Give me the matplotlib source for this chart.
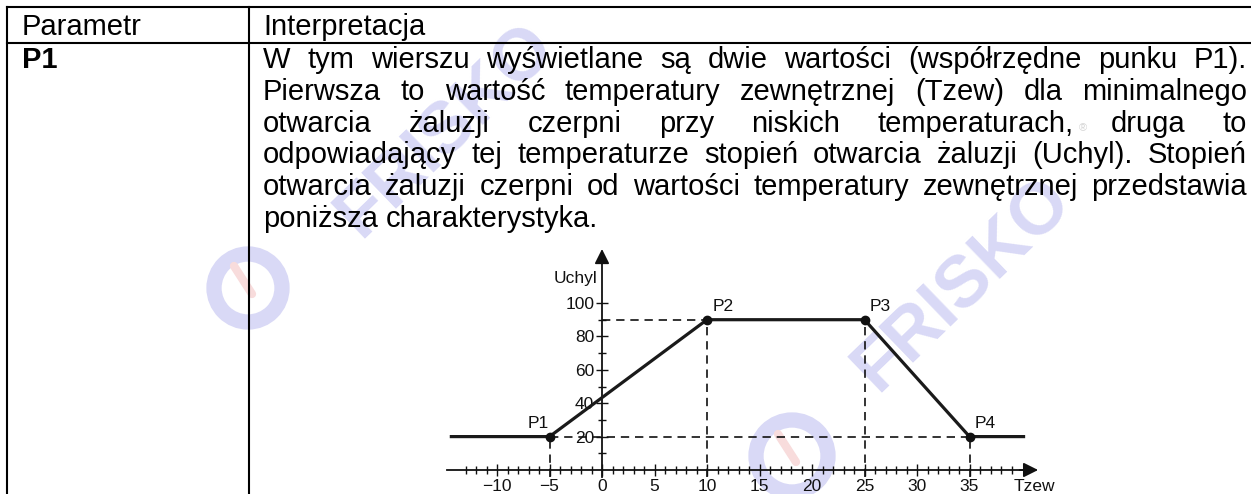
import matplotlib
matplotlib.use("Agg")
import matplotlib.pyplot as plt
from matplotlib.patches import Circle

plt.rcParams['font.family'] = ['Liberation Sans', 'DejaVu Sans']

# --- data -------------------------------------------------------------
header_left = "Parametr"
header_right = "Interpretacja"
param_name = "P1"
body_lines = [
    "W tym wierszu wyświetlane są dwie wartości (współrzędne punku P1).",
    "Pierwsza to wartość temperatury zewnętrznej (Tzew) dla minimalnego",
    "otwarcia żaluzji czerpni przy niskich temperaturach, druga to",
    "odpowiadający tej temperaturze stopień otwarcia żaluzji (Uchyl). Stopień",
    "otwarcia żaluzji czerpni od wartości temperatury zewnętrznej przedstawia",
    "poniższa charakterystyka.",
]

tzew = [-14.5, -5, 10, 25, 35, 40.3]
uchyl = [20, 20, 90, 90, 20, 20]

pt_names = ["P1", "P2", "P3", "P4"]
pt_x = [-5, 10, 25, 35]
pt_y = [20, 90, 90, 20]

x_major = [-10, -5, 0, 5, 10, 15, 20, 25, 30, 35]
x_minor = list(range(-13, 40))
y_major = [20, 40, 60, 80, 100]
y_minor = [10, 30, 50, 70, 90]

W, H = 1251, 494
fig = plt.figure(figsize=(W / 100, H / 100), dpi=100)
fig.patch.set_facecolor("white")

# background axes in pixel units (table + text)
bg = fig.add_axes([0, 0, 1, 1])
bg.set_xlim(0, W)
bg.set_ylim(H, 0)
bg.axis("off")

# watermark (logo circle + name), kept inside the picture
wm_col = "#d9d9f6"
for (cx, cy, r), (tx, ty) in [((248, 288, 34), (445, 130)), ((792, 456, 36), (962, 284))]:
    bg.add_patch(Circle((cx, cy), r, fill=False, lw=11, ec=wm_col, zorder=0))
    bg.plot([cx - 14, cx + 4], [cy - 22, cy + 6], color="#f8dcdc", lw=6,
            solid_capstyle="round", zorder=0)
    bg.text(tx, ty, "FRISKO", rotation=44, fontsize=52, fontweight="bold",
            color=wm_col, ha="center", va="center", zorder=0)
bg.text(1083, 128, "®", fontsize=8, color="#d4d4d4", ha="center", va="center", zorder=0)

# table lines
lc = "black"
lw = 1.5
bg.plot([7, W], [7, 7], color=lc, lw=lw)
bg.plot([7, W], [43, 43], color=lc, lw=lw)
bg.plot([7, 7], [7, H], color=lc, lw=lw)
bg.plot([249, 249], [7, H], color=lc, lw=lw)

fs = 21
bg.text(22, 35, header_left, fontsize=fs, va="baseline")
bg.text(263, 35, header_right, fontsize=fs, va="baseline")
bg.text(22, 68, param_name, fontsize=fs, fontweight="bold", va="baseline")

# justified body text
left, right = 263, 1247
baselines = [68, 100, 132, 163, 195, 227]
fig.canvas.draw()
rend = fig.canvas.get_renderer()
space = fs * 100 / 72 * 0.278
for i, line in enumerate(body_lines):
    words = line.split()
    ts = [bg.text(0, baselines[i], w, fontsize=fs, va="baseline") for w in words]
    widths = [t.get_window_extent(rend).width for t in ts]
    if i < len(body_lines) - 1:
        gap = (right - left - sum(widths)) / (len(words) - 1)
    else:
        gap = space
    x = left
    for t, w in zip(ts, widths):
        t.set_x(x)
        x += w + gap

# --- chart ------------------------------------------------------------
px_x, x0 = 10.5, 602
px_y, y0 = 1.67, 470
xl = (-16, 44)
yl = (-14, 140)
ax_l = x0 + xl[0] * px_x
ax_r = x0 + xl[1] * px_x
ax_b = y0 - yl[0] * px_y
ax_t = y0 - yl[1] * px_y
ax = fig.add_axes([ax_l / W, (H - ax_b) / H, (ax_r - ax_l) / W, (ax_b - ax_t) / H])
ax.set_xlim(*xl)
ax.set_ylim(*yl)
ax.patch.set_alpha(0)

for s in ["top", "right"]:
    ax.spines[s].set_visible(False)
ax.spines["bottom"].set_position(("data", 0))
ax.spines["left"].set_position(("data", 0))
ax.spines["bottom"].set_bounds(-14.8, 40.5)
ax.spines["left"].set_bounds(-4, 126)
for s in ["bottom", "left"]:
    ax.spines[s].set_linewidth(1.3)
    ax.spines[s].set_color("#111111")

ax.annotate("", xy=(41.8, 0), xytext=(39.5, 0),
            arrowprops=dict(arrowstyle="-|>", mutation_scale=22, color="#111111", lw=1.3))
ax.annotate("", xy=(0, 134), xytext=(0, 122),
            arrowprops=dict(arrowstyle="-|>", mutation_scale=22, color="#111111", lw=1.3))

ax.set_xticks(x_major)
ax.set_xticks(x_minor, minor=True)
ax.set_yticks(y_major)
ax.set_yticks(y_minor, minor=True)
ax.tick_params(axis="both", which="major", direction="inout", length=9, width=1,
               labelsize=12.5, colors="#111111")
ax.tick_params(axis="both", which="minor", direction="inout", length=6, width=1,
               colors="#111111")
ax.tick_params(axis="x", which="major", pad=2)
ax.tick_params(axis="y", which="major", pad=1)

# dashed guides
dash = dict(color="#111111", lw=1.2, ls=(0, (5, 3.5)))
ax.plot([0, pt_x[2]], [pt_y[2], pt_y[2]], **dash)
ax.plot([pt_x[0], pt_x[3]], [pt_y[0], pt_y[3]], **dash)
for px, py in zip(pt_x, pt_y):
    ax.plot([px, px], [-4, py], **dash)

ax.plot(tzew, uchyl, color="#1a1a1a", lw=2.3, solid_capstyle="butt", zorder=3)
ax.plot(pt_x, pt_y, "o", color="#111111", ms=6, zorder=4)

offs = [(-16, 4), (4, 4), (4, 4), (4, 4)]
for name, px, py, (dx, dy) in zip(pt_names, pt_x, pt_y, offs):
    ax.annotate(name, xy=(px, py), xytext=(dx, dy), textcoords="offset points",
                fontsize=12.5, color="#111111", va="bottom", ha="left")

ax.annotate("Tzew", xy=(41.2, 0), xytext=(0, -6.5), textcoords="offset points",
            fontsize=12.5, ha="center", va="top", color="#111111")
ax.annotate("Uchyl", xy=(0, 112), xytext=(-3, 0), textcoords="offset points",
            fontsize=12.5, ha="right", va="baseline", color="#111111")

fig.savefig("out.png", dpi=100)
